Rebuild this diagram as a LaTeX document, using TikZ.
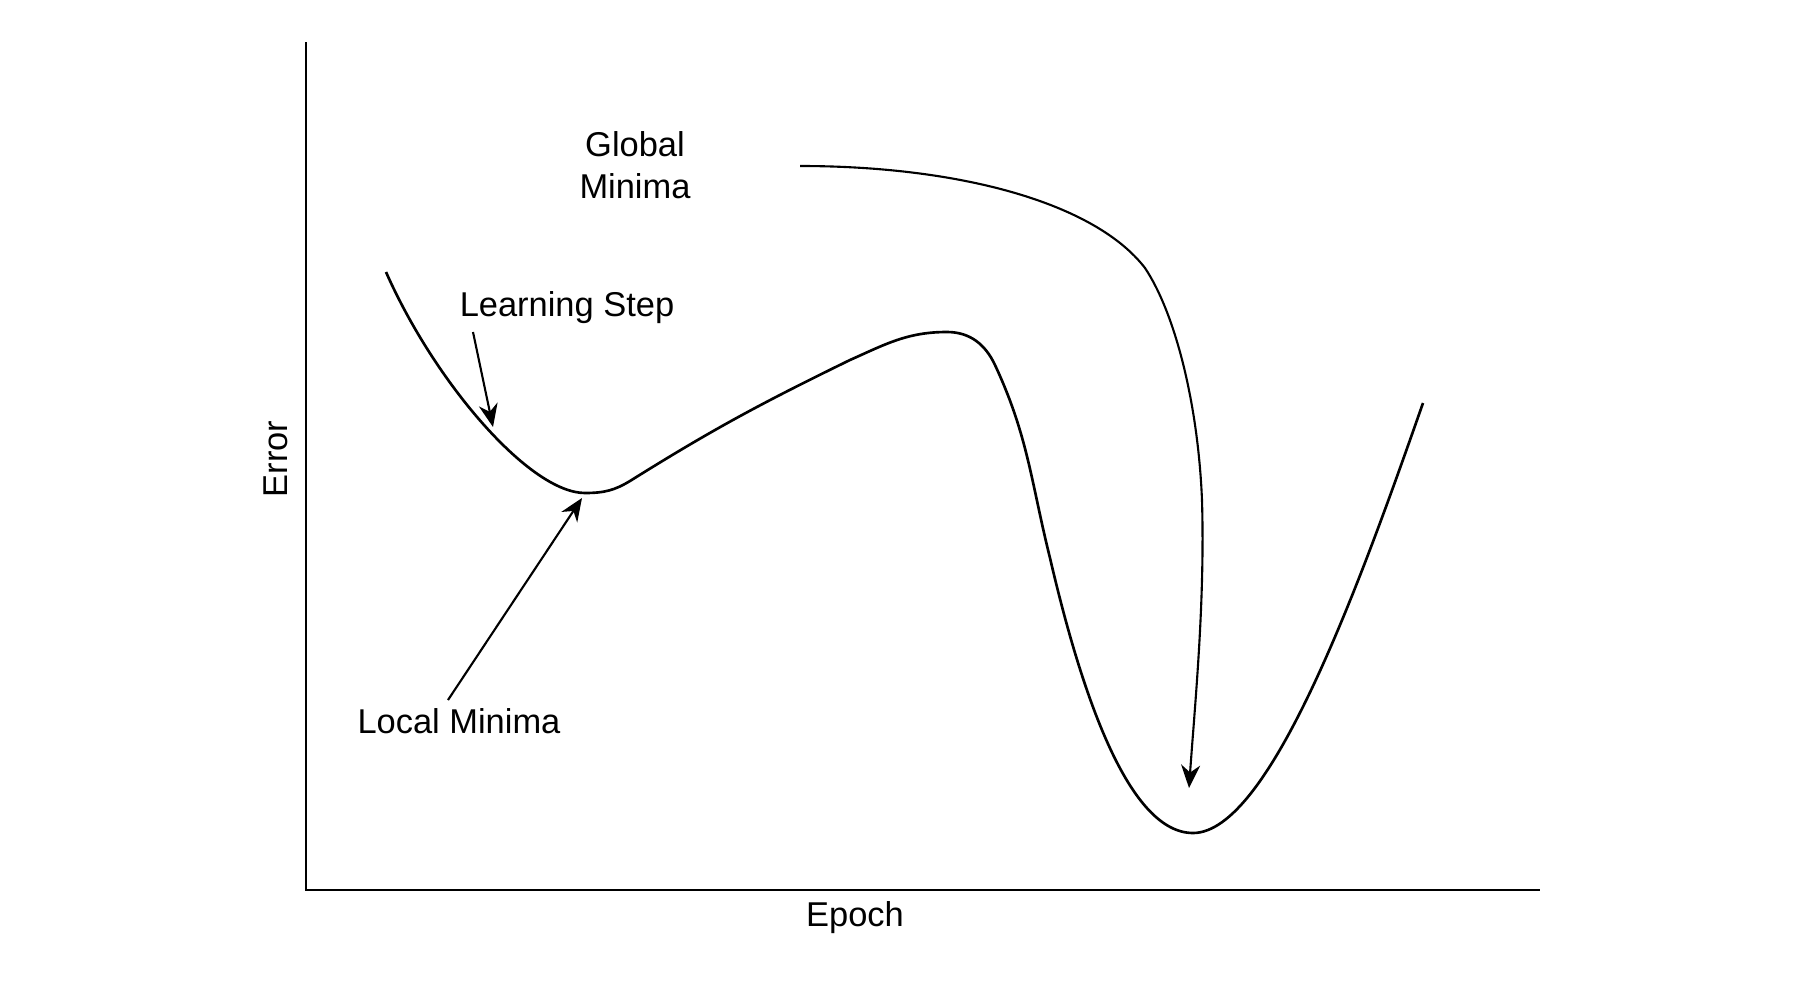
\documentclass[tikz,border=0pt]{standalone}
\usepackage{fontspec}
\setmainfont{Liberation Sans}
\usepackage{tikz}
\usetikzlibrary{arrows.meta}

\begin{document}
\begin{tikzpicture}[
        >={Stealth[length=0.23cm, width=0.19cm]},
        axis/.style={line width=0.75pt},
        errcurve/.style={line width=0.75pt, line join=round},
        pointer/.style={draw, line width=0.6pt, ->},
        label/.style={font=\fontsize{9.8}{11.8}\selectfont, align=center, inner sep=0pt},
    ]
        \useasboundingbox (0,0) rectangle (18,9.83);

        % axes
        \coordinate (top) at (3.06,9.41);
        \coordinate (origin) at (3.06,0.93);
        \coordinate (right) at (15.40,0.93);
        \draw[axis] (top) -- (origin) -- (right);
        \node[label, rotate=90] (error) at (2.76,5.24) {Error};
        \node[label] (epoch) at (8.55,0.65) {Epoch};

        % error curve
        \coordinate (localmin) at (5.85,4.90);
        \coordinate (peak) at (9.47,6.51);
        \coordinate (globalmin) at (11.93,1.50);
        \draw[errcurve] (3.86,7.11) .. controls (4.35,6.00) and (5.30,4.90) .. (localmin)
            .. controls (6.05,4.90) and (6.15,4.93) .. (6.30,5.02)
            to[out=32, in=206] (8.50,6.23)
            to[out=24, in=180] (peak)
            to[out=0, in=115] (9.95,6.18)
            to[out=-65, in=104] (10.50,4.25)
            .. controls (10.78,3.05) and (11.25,1.50) .. (globalmin)
            .. controls (12.70,1.50) and (13.60,4.00) .. (14.23,5.80);

        % labels
        \node[label] (global) at (6.35,8.18) {Global\\Minima};
        \node[label] (step) at (5.67,6.75) {Learning Step};
        \node[label] (local) at (4.59,2.62) {Local Minima};

        \coordinate (steptail) at (4.73,6.51);
        \coordinate (steptip) at (4.93,5.56);
        \coordinate (localtail) at (4.48,2.83);
        \coordinate (localtip) at (5.82,4.85);
        \coordinate (globaltail) at (8.00,8.17);
        \coordinate (globaltip) at (11.89,1.95);

        \path[pointer] (steptail) -- (steptip);
        \path[pointer] (localtail) -- (localtip);
        \path[pointer] (globaltail) .. controls (9.60,8.17) and (10.95,7.80) .. (11.45,7.15)
            .. controls (11.75,6.70) and (11.98,5.80) .. (12.02,4.83)
            .. controls (12.05,3.80) and (11.95,2.80) .. (globaltip);
    \end{tikzpicture}
\end{document}
